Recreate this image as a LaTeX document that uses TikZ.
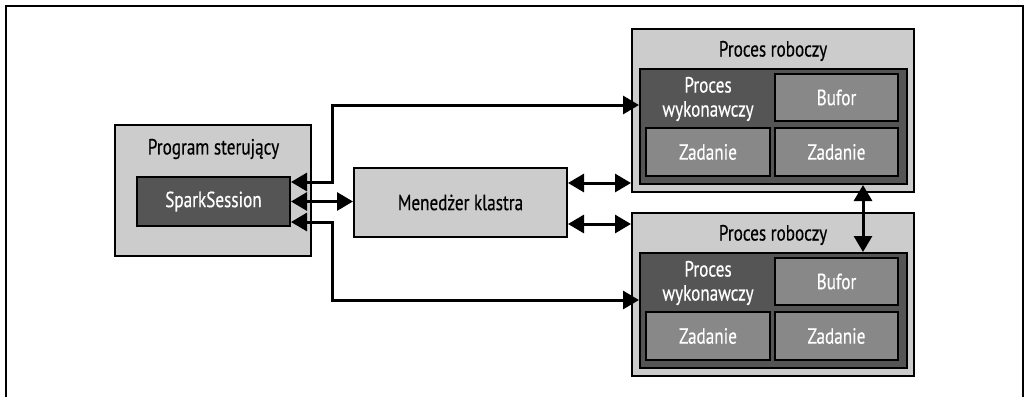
\documentclass[tikz,border=0pt]{standalone}
\usepackage{fontspec}
\setmainfont[FakeStretch=0.78,FakeBold=0.4]{PT Sans}
\usetikzlibrary{arrows.meta}
\definecolor{light}{HTML}{CCCCCC}
\definecolor{darkg}{HTML}{555555}
\definecolor{midg}{HTML}{888888}
\begin{document}
\begin{tikzpicture}[x=1pt,y=-1pt,
  box/.style={draw=black,line width=2pt,inner sep=0pt,rectangle},
  lightbox/.style={box,fill=light},
  darkbox/.style={box,fill=darkg,text=white},
  midbox/.style={box,fill=midg,text=white},
  txt/.style={inner sep=0pt,font=\fontsize{22}{24}\selectfont,align=center},
  conn/.style={line width=3pt,{Triangle[length=16pt,width=18pt]}-{Triangle[length=16pt,width=18pt]}}
]
\useasboundingbox (0,0) rectangle (1025,397);
\draw[line width=2pt] (6,397) -- (6,6) -- (1023,6) -- (1023,397);

% driver
\node[lightbox,minimum width=196pt,minimum height=131pt] (drv) at (213,190.5) {};
\node[txt] (drvt) at (213.5,149) {Program sterujący};
\node[darkbox,txt,minimum width=153pt,minimum height=49pt] (ss) at (213.5,201.5) {SparkSession};

% manager
\node[lightbox,txt,minimum width=213pt,minimum height=69pt] (mgr) at (460.5,202.5) {Menedżer klastra};

% workers
\foreach \n/\dy in {1/0,2/184}{
  \node[lightbox,minimum width=282pt,minimum height=163pt] (w\n) at (773,110.5+\dy) {};
  \node[txt] (wt\n) at (773,51+\dy) {Proces roboczy};
  \node[box,fill=darkg,minimum width=267pt,minimum height=115pt] (e\n) at (773.5,126.5+\dy) {};
  \node[txt,text=white] (et\n) at (708,99+\dy) {Proces\\wykonawczy};
  \node[midbox,txt,minimum width=123pt,minimum height=47pt] (b\n) at (836.5,97.5+\dy) {Bufor};
  \node[midbox,txt,minimum width=124pt,minimum height=48pt] (za\n) at (708,152+\dy) {Zadanie};
  \node[midbox,txt,minimum width=123pt,minimum height=48pt] (zb\n) at (836.5,152+\dy) {Zadanie};
}

% connectors
\coordinate (t1) at (332,182);
\coordinate (t2) at (332,105);
\coordinate (u1) at (332,222);
\coordinate (u2) at (332,300);
\coordinate (m1) at (0,183);
\coordinate (m2) at (0,224);
\coordinate (vx) at (863,0);

\draw[conn] (ss.east |- t1) -- (t1) -- (t2) -- (e1.west |- t2);
\draw[conn] (ss.east |- u1) -- (u1) -- (u2) -- (e2.west |- u2);
\draw[conn] (ss.east) -- (ss.east -| mgr.west);
\draw[conn] (mgr.east |- m1) -- (w1.west |- m1);
\draw[conn] (mgr.east |- m2) -- (w2.west |- m2);
\draw[conn] (e1.south -| vx) -- (e2.north -| vx);
\end{tikzpicture}
\end{document}
